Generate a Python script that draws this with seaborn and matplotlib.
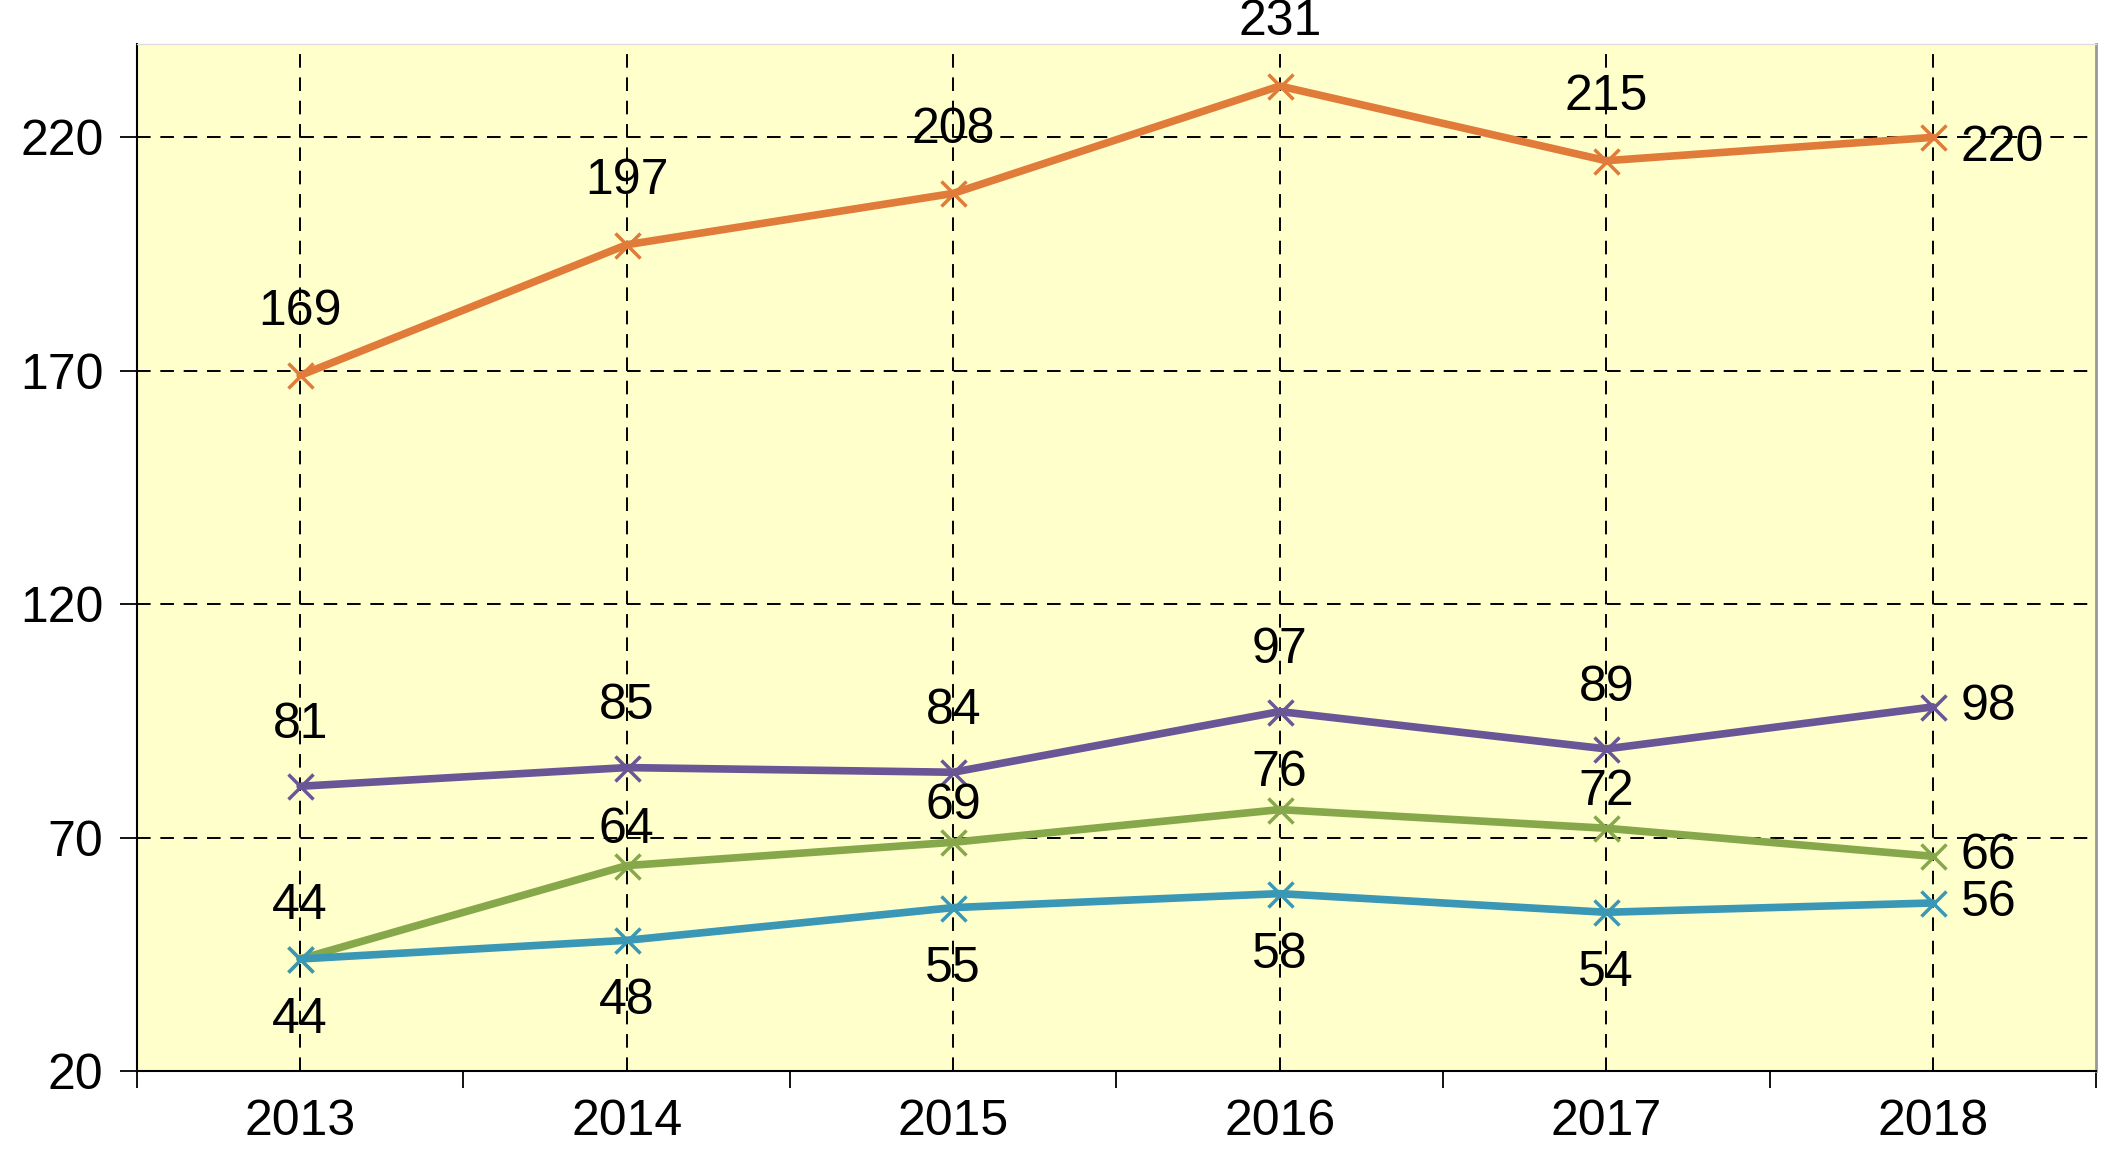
import numpy as np
import pandas as pd
import matplotlib
matplotlib.use("Agg")
import matplotlib.pyplot as plt
import seaborn as sns

## data
years = ["2013", "2014", "2015", "2016", "2017", "2018"]
orange_vals = [169, 197, 208, 231, 215, 220]
purple_vals = [81, 85, 84, 97, 89, 98]
green_vals = [44, 64, 69, 76, 72, 66]
blue_vals = [44, 48, 55, 58, 54, 56]

sns.set_style("white")
plt.rcParams['font.family'] = ['Liberation Sans', 'DejaVu Sans']

fig = plt.figure(figsize=(21.03, 11.52), dpi=100)
ax = fig.add_axes([0.0651, 0.0703, 0.9316, 0.8915])
ax.set_facecolor("#FFFFCC")

x = np.arange(len(years))

# (values, color, label offset in points for the first five points)
series = [
    (orange_vals, "#E07B39", 46),
    (purple_vals, "#6A5597", 44),
    (green_vals, "#86A84B", 26),
    (blue_vals, "#3A97B6", -44),
]

for vals, col, off in series:
    sns.lineplot(x=x, y=vals, ax=ax, color=col, linewidth=5.5, marker="x",
                 markersize=18, markeredgewidth=2.5, markeredgecolor=col,
                 zorder=3)
    for i, v in enumerate(vals):
        if i == len(vals) - 1:
            # last point labelled on the right
            ax.annotate(str(v), (x[i], v), xytext=(20, -8 if v > 200 else 0),
                        textcoords="offset points", ha="left", va="center",
                        fontsize=36, color="black", zorder=4)
        else:
            o = off
            if vals is green_vals and i == 0:
                o = 38
            ax.annotate(str(v), (x[i], v), xytext=(0, o),
                        textcoords="offset points", ha="center", va="center",
                        fontsize=36, color="black", zorder=4)

ax.set_xlim(-0.5, 5.5)
ax.set_ylim(20, 240)
ax.set_yticks([20, 70, 120, 170, 220])
ax.set_xticks(x)
ax.set_xticklabels(years)
ax.set_xticks(np.arange(-0.5, 6, 1), minor=True)

ax.grid(True, which="major", color="black", linestyle=(0, (7, 5)), linewidth=1.4, zorder=1)
ax.tick_params(axis="y", which="major", direction="out", length=12, width=1.3,
               labelsize=36, pad=12, left=True, labelcolor="black", color="black")
ax.tick_params(axis="x", which="major", length=0, labelsize=36, pad=20,
               labelcolor="black")
ax.tick_params(axis="x", which="minor", direction="out", length=12, width=1.3,
               bottom=True, color="black")

for s in ["left", "bottom"]:
    ax.spines[s].set_color("black")
    ax.spines[s].set_linewidth(1.5)
ax.spines["right"].set_color("#999999")
ax.spines["right"].set_linewidth(2)
ax.spines["top"].set_color("#dddddd")
ax.spines["top"].set_linewidth(1)

ax.set_xlabel("")
ax.set_ylabel("")

plt.savefig("out.png", dpi=100)
